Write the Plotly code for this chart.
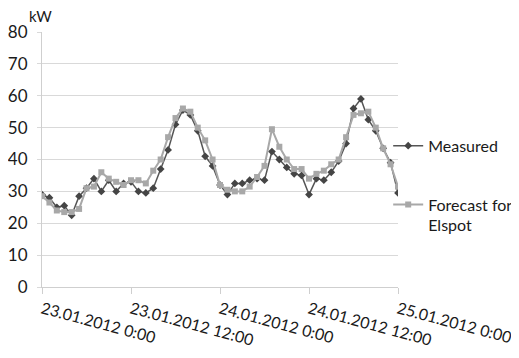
import pandas as pd
import plotly.graph_objects as go

times = pd.date_range("2012-01-23 00:00", periods=49, freq="h")

measured = [29, 28, 25, 25.5, 22.5, 28.5, 31, 34, 30, 33.5, 30, 32.5, 33,
            30, 29.5, 31, 37, 43, 51, 55.5, 54, 49, 41, 38, 32,
            29, 32.5, 32.5, 33.5, 34, 33.5, 42.5, 40, 37.5, 35.5, 35, 29,
            34, 33.5, 36, 39.5, 45, 56, 59, 52.5, 49, 43.5, 39, 29.5]

forecast = [28.5, 26.5, 24, 23.5, 23.5, 24.5, 31, 31.5, 36, 34, 33, 32, 33.5,
            33.5, 32.5, 36.5, 40, 47, 53, 56, 55, 50, 46, 40, 32,
            30.5, 30, 30, 31.5, 34.5, 38, 49.5, 44, 40, 37, 37, 34,
            35.5, 36.5, 38.5, 40, 47, 54, 54.5, 55, 50, 43.5, 38.5, 31.5]

tick_times = pd.to_datetime(["2012-01-23 00:00", "2012-01-23 12:00", "2012-01-24 00:00",
                             "2012-01-24 12:00", "2012-01-25 00:00"])
tick_labels = ["23.01.2012 0:00", "23.01.2012 12:00", "24.01.2012 0:00",
               "24.01.2012 12:00", "25.01.2012 0:00"]
y_ticks = [0, 10, 20, 30, 40, 50, 60, 70, 80]

fig = go.Figure()
fig.add_trace(go.Scatter(
    x=times, y=measured, name="Measured", mode="lines+markers",
    line=dict(color="#555555", width=1.5),
    marker=dict(symbol="diamond", size=6, color="#454545"),
    legendgroup="a"))
fig.add_trace(go.Scatter(
    x=times, y=forecast, name="Forecast for<br>Elspot", mode="lines+markers",
    line=dict(color="#a8a8a8", width=2),
    marker=dict(symbol="square", size=6, color="#a8a8a8"),
    legendgroup="b"))

font_family = "Lato, 'Open Sans', sans-serif"
# page body has an 8px margin; figure sized to fill the rest of the window
fig.update_layout(
    width=511, height=350,
    margin=dict(l=34, r=121, t=24, b=71, autoexpand=False),
    paper_bgcolor="white", plot_bgcolor="white",
    font=dict(family=font_family, size=16, color="#1a1a1a"),
    showlegend=True,
    legend=dict(xref="container", yref="container", x=0.744, xanchor="left",
                y=0.655, yanchor="top", valign="top",
                traceorder="grouped", tracegroupgap=35,
                font=dict(size=16), itemwidth=30,
                bgcolor="rgba(0,0,0,0)"),
    xaxis=dict(range=[times[0], times[-1]], tickvals=tick_times, ticktext=tick_labels,
               tickangle=15, showgrid=False, showline=True, linecolor="#cfcfcf",
               ticks="outside", ticklen=6, tickcolor="#cfcfcf",
               tickfont=dict(size=16), zeroline=False, automargin=False),
    yaxis=dict(range=[0, 80], tickvals=y_ticks, showgrid=True, gridcolor="#d9d9d9",
               showline=True, linecolor="#cfcfcf", ticks="outside", ticklen=4,
               tickcolor="#d9d9d9", tickfont=dict(size=17), zeroline=False,
               ticklabelstandoff=6, automargin=False),
    annotations=[dict(text="kW", xref="paper", yref="paper", x=-0.042, y=1.02,
                      xanchor="left", yanchor="bottom", showarrow=False,
                      font=dict(size=15))],
)

fig.write_html("out.html")
